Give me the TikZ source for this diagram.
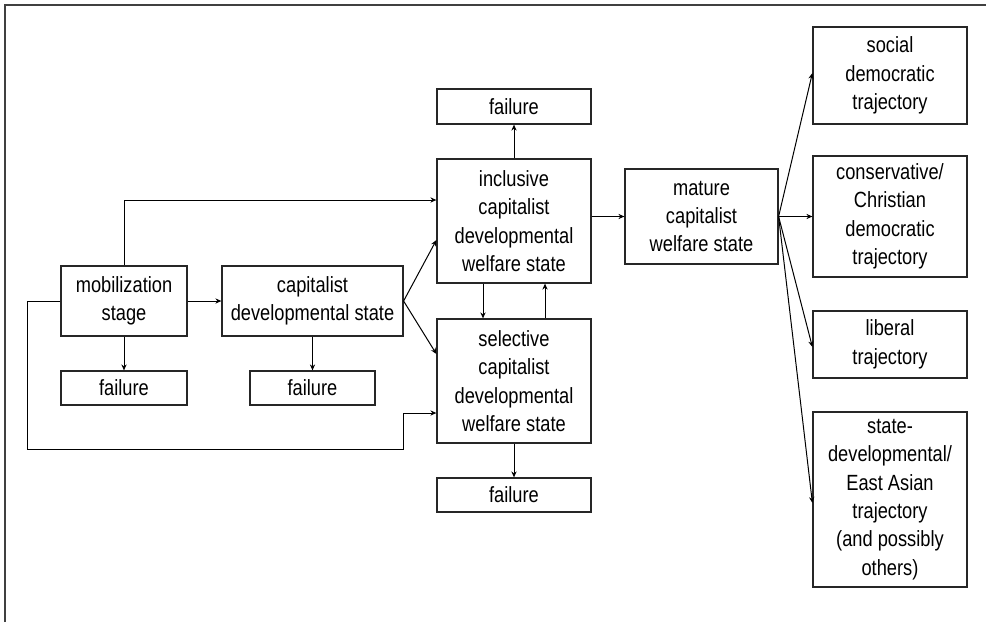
\documentclass[tikz,border=0pt]{standalone}
\usepackage{fontspec}
\setmainfont[FakeStretch=0.83]{Liberation Sans}
\usetikzlibrary{arrows.meta}
\tikzset{
  box/.style={draw=black!85, line width=0.6pt, align=center, inner sep=0pt,
    font=\fontsize{11}{14.2}\selectfont},
  arr/.style={line width=0.5pt, -{Stealth[length=3pt,width=2.6pt]}},
  frame/.style={draw=black!75, line width=1.1pt}
}
\begin{document}
\begin{tikzpicture}[x=0.5pt,y=-0.5pt]
\useasboundingbox (0,0) rectangle (986,622);
\draw[frame] (5,622) -- (5,5) -- (986,5);
% left column
\node[box, minimum width=63pt, minimum height=35pt] (mob) at (124,301) {mobilization\\stage};
\node[box, minimum width=90.5pt, minimum height=35pt] (cap) at (312.5,301) {capitalist\\developmental state};
\node[box, minimum width=63pt, minimum height=17pt] (f1) at (124,388) {failure};
\node[box, minimum width=62.5pt, minimum height=17pt] (f2) at (312.5,388) {failure};
% middle column
\node[box, minimum width=77pt, minimum height=17.5pt] (ftop) at (514,106.5) {failure};
\node[box, minimum width=77pt, minimum height=62pt] (incl) at (514,221) {inclusive\\capitalist\\developmental\\welfare state};
\node[box, minimum width=77pt, minimum height=62pt] (sel) at (514,381) {selective\\capitalist\\developmental\\welfare state};
\node[box, minimum width=77pt, minimum height=17pt] (fbot) at (514,495) {failure};
\node[box, minimum width=76.5pt, minimum height=47.5pt] (mat) at (701.5,216.5) {mature\\capitalist\\welfare state};
% right column
\node[box, minimum width=77pt, minimum height=48.5pt] (soc) at (890,75.5) {social\\democratic\\trajectory};
\node[box, minimum width=77pt, minimum height=60.5pt] (con) at (890,216.5) {conservative/\\Christian\\democratic\\trajectory};
\node[box, minimum width=77pt, minimum height=33.5pt] (lib) at (890,344.5) {liberal\\trajectory};
\node[box, minimum width=77pt, minimum height=87.5pt] (sdev) at (890,499.5) {state-\\developmental/\\East Asian\\trajectory\\(and possibly\\others)};
% coordinates for the loop
\coordinate (l1) at (27,449);
\coordinate (l2) at (403,449);
% connectors
\draw[arr] (mob.east) -- (cap.west);
\draw[arr] (mob.south) -- (f1.north);
\draw[arr] (cap.south) -- (f2.north);
\draw[arr] (mob.north) |- ([yshift=10.5pt]incl.west);
\draw[arr] (cap.east) -- ([yshift=-9.5pt]incl.west);
\draw[arr] (cap.east) -- ([yshift=13.5pt]sel.west);
\draw[arr] (mob.west) -| (l1) -- (l2) |- ([yshift=-16pt]sel.west);
\draw[arr] (incl.north) -- (ftop.south);
\draw[arr] ([xshift=-15.5pt]incl.south) -- ([xshift=-15.5pt]sel.north);
\draw[arr] ([xshift=15.5pt]sel.north) -- ([xshift=15.5pt]incl.south);
\draw[arr] (sel.south) -- (fbot.north);
\draw[arr] (mat.west -| incl.east) -- (mat.west);
\draw[arr] (mat.east) -- ([yshift=1.25pt]soc.west);
\draw[arr] (mat.east) -- (con.west);
\draw[arr] (mat.east) -- ([yshift=-1.25pt]lib.west);
\draw[arr] (mat.east) -- ([yshift=-1.75pt]sdev.west);
\end{tikzpicture}
\end{document}
